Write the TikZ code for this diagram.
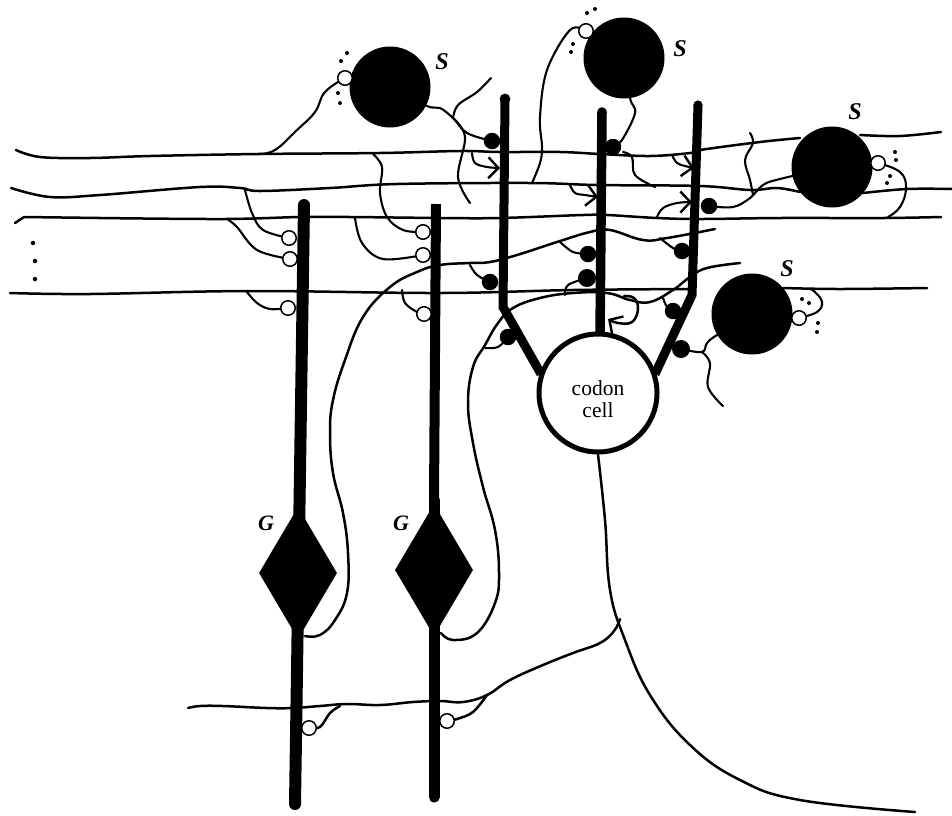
\documentclass[tikz,border=0pt]{standalone}
\usepackage{fontspec}
\setmainfont{Liberation Serif}
\usetikzlibrary{shapes.geometric,backgrounds,arrows.meta}
\tikzset{
  fibre/.style={line width=2.5pt,line cap=round,line join=round,black},
  thin fibre/.style={line width=2.1pt,line cap=round,line join=round,black},
  axon/.style={line width=9.5pt,line join=miter,black},
  soma/.style={circle,fill=black,draw=none,minimum size=81pt,inner sep=0pt},
  whitesyn/.style={circle,fill=white,draw=black,line width=1.5pt,minimum size=14.5pt,inner sep=0pt},
  blacksyn/.style={circle,fill=black,draw=none,minimum size=16.5pt,inner sep=0pt},
  granule/.style={diamond,fill=black,draw=none,shape aspect=0.6,minimum width=78pt,minimum height=132pt,inner sep=0pt},
  codon/.style={circle,fill=white,draw=black,line width=5pt,minimum size=118pt,inner sep=0pt},
  codontext/.style={align=center,inner sep=0pt,font=\fontsize{21.5}{22}\selectfont},
  dotmark/.style={circle,fill=black,minimum size=4pt,inner sep=0pt},
  label s/.style={font=\fontsize{24}{24}\selectfont\itshape\bfseries},
  label g/.style={font=\fontsize{22}{22}\selectfont\itshape\bfseries},
  barb/.style={-{Straight Barb[length=10pt,width=21pt,line width=2.4pt]}},
}
\begin{document}
\begin{tikzpicture}[x=1pt,y=-1pt]
\useasboundingbox (0,0) rectangle (952,815);
% cells
\node[soma] (s1) at (390,87) {};
\node[soma] (s2) at (624,58) {};
\node[soma] (s3) at (832,167) {};
\node[soma] (s4) at (752,314) {};
\node[granule] (g1) at (298,573) {};
\node[granule] (g2) at (434,570) {};
\node[codon] (cc) at (598,393) {};
\node[codontext] (cct) at (598,399) {codon\\cell};
\node[label s] (ls1) at (442,62) {S};
\node[label s] (ls2) at (680,49) {S};
\node[label s] (ls3) at (855,112) {S};
\node[label s] (ls4) at (787,269) {S};
\node[label g] (lg1) at (266,523) {G};
\node[label g] (lg2) at (401,523) {G};
% white synapses
\node[whitesyn] (w1) at (345,78) {};
\node[whitesyn] (w2) at (586,31) {};
\node[whitesyn] (w3) at (878,163) {};
\node[whitesyn] (w4) at (799,318) {};
\node[whitesyn] (w5) at (289,238) {};
\node[whitesyn] (w6) at (290,259) {};
\node[whitesyn] (w7) at (288,308) {};
\node[whitesyn] (w8) at (423,232) {};
\node[whitesyn] (w9) at (423,255) {};
\node[whitesyn] (w10) at (424,314) {};
\node[whitesyn] (w11) at (309,728) {};
\node[whitesyn] (w12) at (447,721) {};
% black synapses
\node[blacksyn] (b1) at (492,141) {};
\node[blacksyn] (b2) at (613,147) {};
\node[blacksyn] (b3) at (709,206) {};
\node[blacksyn] (b4) at (490,282) {};
\node[blacksyn] (b5) at (588,254) {};
\node[blacksyn,minimum size=18pt] (b6) at (587,278) {};
\node[blacksyn] (b7) at (682,251) {};
\node[blacksyn] (b8) at (673,311) {};
\node[blacksyn,minimum size=18pt] (b9) at (681,349) {};
\node[blacksyn] (b10) at (508,337) {};
% dots
\foreach \n/\x/\y in {a/347/53,b/341/61,c/338/93,d/340/103,e/587/13,f/595/9,h/573/44,i/571/52,j/895/152,k/896/160,l/890/176,m/887/183,n/802/299,o/809/303,p/818/323,q/817/332}
  \node[dotmark] (dot\n) at (\x,\y) {};
\foreach \n/\x/\y in {1/33/243,2/35/261,3/35/279}
  \node[dotmark,minimum size=4.5pt] (side\n) at (\x,\y) {};
% axon ends
\coordinate (a1top) at (505,99);
\coordinate (a1bend) at (503,307);
\coordinate (a1end) at (541,374);
\coordinate (a2top) at (602,112);
\coordinate (a2end) at (600,336);
\coordinate (a3top) at (698,105);
\coordinate (a3bend) at (692,295);
\coordinate (a3end) at (655,374);
\coordinate (g1top) at (304,205);
\coordinate (g1bot) at (295,804);
\coordinate (g2top) at (436,204);
\coordinate (g2bot) at (434,797);
\begin{scope}[on background layer]
% main parallel fibres
\draw[fibre] plot[smooth,tension=.6] coordinates {(16,150)(40,157)(90,158)(150,156)(258,154)(380,153)(460,151)(500,152)(560,152)(600,154)(650,156)(690,153)(700,150)(760,142)(800,138)};
\draw[fibre] plot[smooth,tension=.6] coordinates {(860,135)(900,136)(941,132)};
\draw[fibre] plot[smooth,tension=.6] coordinates {(11,188)(50,197)(100,195)(200,187)(240,188)(260,191)(330,188)(397,184)(530,183)(597,185)(700,186)(750,190)(777,188)(800,192)};
\draw[fibre] plot[smooth,tension=.6] coordinates {(863,193)(907,189)(952,189)};
\draw[fibre] (15,223) -- (24,217) -- (100,218);
\draw[fibre] plot[smooth,tension=.6] coordinates {(100,218)(225,219)(300,217)(350,217)(440,218)(500,218)(583,215)(607,215)(657,218)(700,219)(780,218)(883,218)(941,217)};
\draw[fibre] plot[smooth,tension=.6] coordinates {(10,293)(90,294)(250,291)(440,293)(573,290)(693,289)};
\draw[fibre] plot[smooth,tension=.6] coordinates {(783,288)(840,289)(927,288)};
% thick axons
\draw[axon,line width=9pt] (a1top) -- (a1bend) -- (a1end);
\fill (a1top) circle (5.4pt);
\draw[axon] (a2top) -- (a2end);
\fill (a2top) circle (4.8pt);
\draw[axon,line width=9pt] (a3top) -- (a3bend) -- (a3end);
\fill (a3top) circle (4.6pt);
\draw[axon,line width=12pt,line cap=round] (g1top) -- (g1bot);
\draw[axon,line width=10pt] (g2top) -- (434,500);
\draw[axon,line width=11pt,line cap=round] (434,500) -- (g2bot);
% codon cell output
\draw[fibre] plot[smooth,tension=.7] coordinates {(cc.south)(605,520)(610,590)(625,640)(650,695)(690,745)(740,780)(800,800)(915,812)};
\draw[fibre] plot[smooth,tension=.7] coordinates {(620,619)(614,631)(600,643)(573,653)(543,665)(510,680)(487,695)(463,702)(440,701)(413,702)(380,705)(347,704)(320,706)(293,708)(267,708)(223,706)(200,706)(188,708)};
\draw[fibre] plot[smooth,tension=.6] coordinates {(340,706)(330,713)(320,727)(w11.center)};
\draw[fibre] plot[smooth,tension=.6] coordinates {(487,695)(473,712)(457,719)(w12.center)};
% recurrent collaterals of granule cells
\draw[fibre] plot[smooth,tension=.7] coordinates {(305,636)(320,635)(335,620)(347,593)(348,553)(343,513)(333,473)(330,433)(333,400)(345,360)(363,317)(390,287)(417,272)(440,265)(470,263)(490,262)(517,255)(557,242)(590,232)(610,230)(643,240)(667,238)(715,229)};
\draw[fibre] plot[smooth,tension=.7] coordinates {(441,633)(453,640)(477,633)(495,603)(499,573)(495,530)(483,487)(473,443)(468,403)(473,367)(485,345)(498,323)(513,308)(540,298)(573,293)(607,293)(630,300)(650,302)(673,290)(690,277)(707,268)(740,263)};
\draw[fibre,barb] plot[smooth,tension=.7] coordinates {(624,296)(634,298)(638,309)(632,322)(618,323)(608,319)};
% granule to white synapses
\draw[thin fibre] plot[smooth,tension=.6] coordinates {(245,190)(252,213)(263,230)(w5.center)};
\draw[thin fibre] plot[smooth,tension=.6] coordinates {(227,219)(237,227)(257,250)(w6.center)};
\draw[thin fibre] plot[smooth,tension=.6] coordinates {(247,292)(257,303)(270,309)(w7.center)};
\draw[thin fibre] plot[smooth,tension=.6] coordinates {(373,154)(382,167)(380,193)(387,217)(403,230)(w8.center)};
\draw[thin fibre] plot[smooth,tension=.6] coordinates {(355,218)(362,243)(383,259)(w9.center)};
\draw[thin fibre] plot[smooth,tension=.6] coordinates {(402,290)(405,303)(417,312)(w10.center)};
% stellate dendrites
\draw[thin fibre] plot[smooth,tension=.7] coordinates {(258,154)(275,150)(297,130)(315,112)(325,92)(w1.center)};
\draw[thin fibre] plot[smooth,tension=.6] coordinates {(532,183)(540,163)(542,147)(540,117)(547,70)(570,30)(w2.center)};
\draw[thin fibre] plot[smooth,tension=.7] coordinates {(w3.center)(900,172)(906,188)(900,207)(888,217)};
\draw[thin fibre] plot[smooth,tension=.7] coordinates {(810,289)(815,292)(822,302)(817,312)(w4.center)};
% stellate axons to black synapses
\draw[thin fibre] plot[smooth,tension=.6] coordinates {(s1.center)(427,106)(440,108)(453,118)(467,133)(b1.center)};
\draw[thin fibre] plot[smooth,tension=.6] coordinates {(491,78)(477,92)(458,105)(453,118)};
\draw[thin fibre] plot[smooth,tension=.6] coordinates {(453,118)(465,137)(458,177)(470,203)};
\draw[thin fibre] plot[smooth,tension=.6] coordinates {(s2.center)(630,98)(635,113)(622,140)(b2.center)};
\draw[thin fibre] plot[smooth,tension=.6] coordinates {(623,152)(632,157)(635,175)(655,187)};
\draw[thin fibre] plot[smooth,tension=.6] coordinates {(b3.center)(733,207)(750,198)(763,185)(780,179)(s3.center)};
\draw[thin fibre] plot[smooth,tension=.6] coordinates {(750,133)(753,143)(745,160)(750,180)(753,195)};
\draw[thin fibre] plot[smooth,tension=.6] coordinates {(b9.center)(702,352)(707,343)(717,335)(s4.center)};
\draw[thin fibre] plot[smooth,tension=.6] coordinates {(702,352)(710,363)(708,387)(723,406)};
% fibre to black synapses on dendrites
\draw[thin fibre] plot[smooth,tension=.6] coordinates {(470,265)(477,275)(b4.center)};
\draw[thin fibre] plot[smooth,tension=.6] coordinates {(560,242)(573,252)(b5.center)};
\draw[thin fibre] plot[smooth,tension=.6] coordinates {(565,295)(568,285)(b6.center)};
\draw[thin fibre] plot[smooth,tension=.6] coordinates {(660,238)(673,248)(b7.center)};
\draw[thin fibre] plot[smooth,tension=.6] coordinates {(663,298)(667,307)(b8.center)};
\draw[thin fibre] plot[smooth,tension=.6] coordinates {(485,348)(498,347)(b10.center)};
% arrows to the dendrites
\draw[thin fibre,barb] plot[smooth,tension=.6] coordinates {(472,153)(475,163)(487,167)(500,168)};
\draw[thin fibre,barb] plot[smooth,tension=.6] coordinates {(570,185)(575,193)(585,195)(598,197)};
\draw[thin fibre,barb] plot[smooth,tension=.6] coordinates {(672,155)(677,163)(685,166)(694,168)};
\draw[thin fibre,barb] plot[smooth,tension=.6] coordinates {(657,217)(663,208)(677,203)(692,202)};
\end{scope}
\end{tikzpicture}
\end{document}
